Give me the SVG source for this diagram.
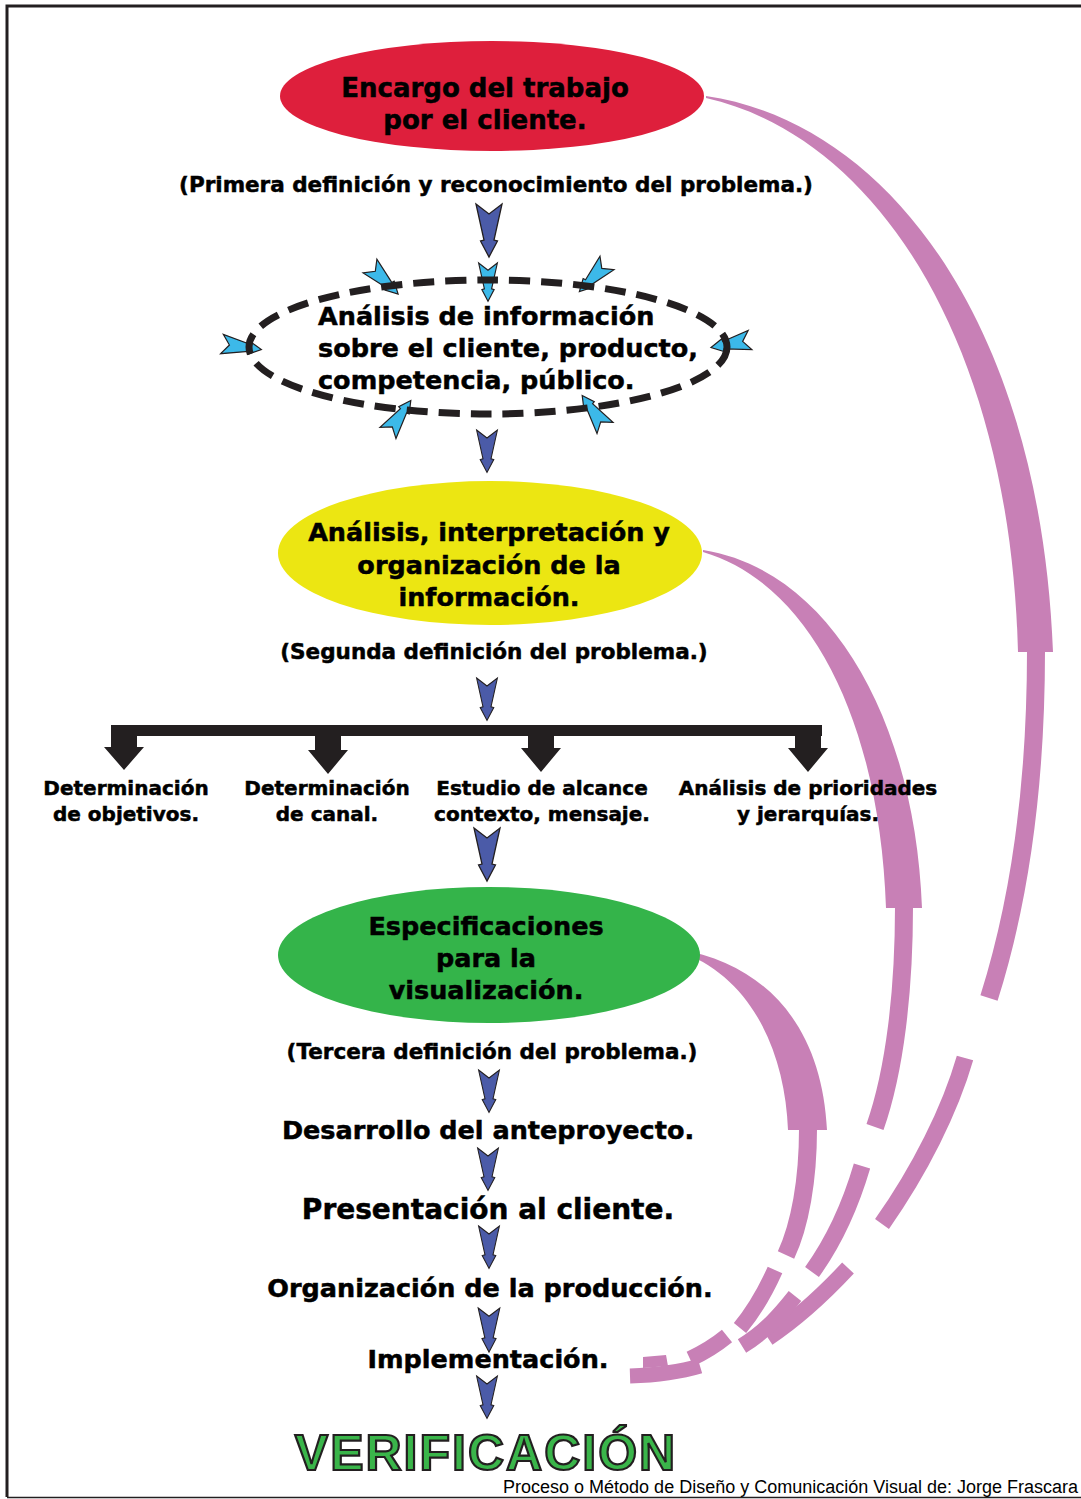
<svg xmlns="http://www.w3.org/2000/svg" xmlns:xlink="http://www.w3.org/1999/xlink" width="1081" height="1499" viewBox="0 0 1081 1499">
<style>
.b{font-family:"DejaVu Sans","Liberation Sans",sans-serif;font-weight:bold;fill:#000;stroke:#000;stroke-width:0.5;text-anchor:middle}
.t{font-size:25.5px}
.s{font-size:21.5px}
.m{font-size:20px}
.pk{fill:none;stroke:#C880B6;stroke-linecap:butt}
.pf{fill:#C880B6}
.blue{fill:#4B5BA8;stroke:#231F20;stroke-width:1.3}
.cyan{fill:#3CB9E9;stroke:#231F20;stroke-width:1.6}
</style>
<defs>
<path id="dart" d="M-13,0 L0,10 L13,0 L5,36 L8.5,37 L0,53 L-8.5,37 L-5,36 Z"/>
</defs>
<rect width="1081" height="1499" fill="#fff"/>
<path d="M7,1497 L7,6 L1081,6" fill="none" stroke="#231F20" stroke-width="3"/>
<path d="M7,1497.5 L1081,1497.5" fill="none" stroke="#231F20" stroke-width="1.5"/>

<g id="connectors">
  <!-- pink feedback curves -->
  <path class="pf" d="M706,96 C885,122 1040,320 1053,652 L1018,652 C1010,340 875,136 706,98 Z"/>
  <path class="pk" stroke-width="18" d="M1036,651 C1036,780 1020,900 989,998"/>
  <path class="pk" stroke-width="17" d="M965,1058 C950,1110 920,1170 882,1224"/>
  <path class="pk" stroke-width="16" d="M848,1268 C820,1298 795,1320 768,1338"/>
  <path class="pf" d="M703,550 C830,570 915,720 922,908 L886,908 C880,730 815,585 703,552 Z"/>
  <path class="pk" stroke-width="18" d="M904,907 C904,990 895,1070 875,1127"/>
  <path class="pk" stroke-width="17" d="M862,1166 C852,1200 835,1240 812,1272"/>
  <path class="pk" stroke-width="16" d="M795,1296 C780,1315 765,1332 742,1346"/>
  <path class="pf" d="M678,949 C770,965 822,1030 827,1130 L788,1130 C785,1050 750,975 678,951 Z"/>
  <path class="pk" stroke-width="18" d="M808,1129 C808,1180 800,1225 786,1255"/>
  <path class="pk" stroke-width="16" d="M775,1270 C766,1290 755,1310 740,1328"/>
  <path class="pk" stroke-width="16" d="M727,1336 C716,1345 705,1352 690,1359"/>
  <path class="pk" stroke-width="15" d="M700,1366 C680,1372 660,1375 630,1376"/>
  <path class="pf" d="M643,1357 L666,1355 L668,1366 L643,1368 Z"/>

  <!-- blue flow arrows -->
  <use xlink:href="#dart" class="blue" transform="translate(489,204)"/>
  <use xlink:href="#dart" class="blue" transform="translate(487,430) scale(0.8)"/>
  <use xlink:href="#dart" class="blue" transform="translate(487,678) scale(0.8)"/>
  <use xlink:href="#dart" class="blue" transform="translate(487,828)"/>
  <use xlink:href="#dart" class="blue" transform="translate(489,1070) scale(0.8)"/>
  <use xlink:href="#dart" class="blue" transform="translate(488,1148) scale(0.8)"/>
  <use xlink:href="#dart" class="blue" transform="translate(489,1226) scale(0.8)"/>
  <use xlink:href="#dart" class="blue" transform="translate(489,1308) scale(0.83)"/>
  <use xlink:href="#dart" class="blue" transform="translate(487,1376) scale(0.8)"/>

  <!-- cyan inward arrows -->
  <use xlink:href="#dart" class="cyan" transform="translate(370,266) rotate(-45) scale(0.75)"/>
  <use xlink:href="#dart" class="cyan" transform="translate(488,263) scale(0.72)"/>
  <use xlink:href="#dart" class="cyan" transform="translate(607,263) rotate(44) scale(0.75)"/>
  <use xlink:href="#dart" class="cyan" transform="translate(222,344) rotate(-82) scale(0.75)"/>
  <use xlink:href="#dart" class="cyan" transform="translate(750,340) rotate(79) scale(0.75)"/>
  <use xlink:href="#dart" class="cyan" transform="translate(388,433) rotate(-145) scale(0.75)"/>
  <use xlink:href="#dart" class="cyan" transform="translate(605,428) rotate(145) scale(0.75)"/>

  <!-- black branching connector -->
  <g fill="#231F20">
    <rect x="111" y="725" width="711" height="11"/>
    <path d="M111,730 L137,730 L137,747 L144,747 L124,770 L104,747 L111,747 Z"/>
    <path d="M315,730 L341,730 L341,750 L348,750 L328,774 L308,750 L315,750 Z"/>
    <path d="M528,730 L554,730 L554,748 L561,748 L541,772 L521,748 L528,748 Z"/>
    <path d="M795,730 L821,730 L821,748 L828,748 L808,772 L788,748 L795,748 Z"/>
  </g>
</g>

<g id="n-encargo">
  <ellipse cx="492" cy="96" rx="212" ry="55" fill="#DE1F3C"/>
  <text class="b" font-size="26" x="485" y="97">Encargo del trabajo</text>
  <text class="b" font-size="26" x="485" y="129">por el cliente.</text>
</g>
<g id="n-def1">
  <text class="b s" x="496" y="192">(Primera definición y reconocimiento del problema.)</text>
</g>
<g id="n-analisis-info">
  <ellipse cx="488" cy="347" rx="239" ry="67" fill="none" stroke="#231F20" stroke-width="7" stroke-dasharray="21 11"/>
  <text class="b t" x="318" y="325" style="text-anchor:start">Análisis de información</text>
  <text class="b t" x="318" y="357" style="text-anchor:start">sobre el cliente, producto,</text>
  <text class="b t" x="318" y="389" style="text-anchor:start">competencia, público.</text>
</g>
<g id="n-interpretacion">
  <ellipse cx="490" cy="553" rx="212" ry="72" fill="#ECE612"/>
  <text class="b t" x="489" y="541">Análisis, interpretación y</text>
  <text class="b t" x="489" y="574">organización de la</text>
  <text class="b t" x="489" y="606">información.</text>
</g>
<g id="n-def2">
  <text class="b s" x="494" y="659">(Segunda definición del problema.)</text>
</g>
<g id="n-objetivos">
  <text class="b m" x="126" y="795">Determinación</text>
  <text class="b m" x="126" y="821">de objetivos.</text>
</g>
<g id="n-canal">
  <text class="b m" x="327" y="795">Determinación</text>
  <text class="b m" x="327" y="821">de canal.</text>
</g>
<g id="n-alcance">
  <text class="b m" x="542" y="795">Estudio de alcance</text>
  <text class="b m" x="542" y="821">contexto, mensaje.</text>
</g>
<g id="n-prioridades">
  <text class="b m" x="808" y="795">Análisis de prioridades</text>
  <text class="b m" x="808" y="821">y jerarquías.</text>
</g>
<g id="n-especificaciones">
  <ellipse cx="489" cy="955" rx="211" ry="68" fill="#34B44A"/>
  <text class="b t" x="486" y="935">Especificaciones</text>
  <text class="b t" x="486" y="967">para la</text>
  <text class="b t" x="486" y="999">visualización.</text>
</g>
<g id="n-def3">
  <text class="b s" x="492" y="1059">(Tercera definición del problema.)</text>
</g>
<g id="n-anteproyecto">
  <text class="b t" x="488" y="1139">Desarrollo del anteproyecto.</text>
</g>
<g id="n-presentacion">
  <text class="b" font-size="28" x="488" y="1219">Presentación al cliente.</text>
</g>
<g id="n-produccion">
  <text class="b t" x="490" y="1297">Organización de la producción.</text>
</g>
<g id="n-implementacion">
  <text class="b t" x="488" y="1368">Implementación.</text>
</g>
<g id="n-verificacion">
  <text x="486" y="1470" text-anchor="middle" font-family="Liberation Sans, Arial, sans-serif" font-weight="bold" font-size="50" letter-spacing="2" fill="#3AB54A" stroke="#231F20" stroke-width="2.2">VERIFICACIÓN</text>
</g>
<g id="credit">
  <text x="1078" y="1493" text-anchor="end" font-family="Liberation Sans, Arial, sans-serif" font-size="18" fill="#000">Proceso o Método de Diseño y Comunicación Visual de: Jorge Frascara</text>
</g>
</svg>
